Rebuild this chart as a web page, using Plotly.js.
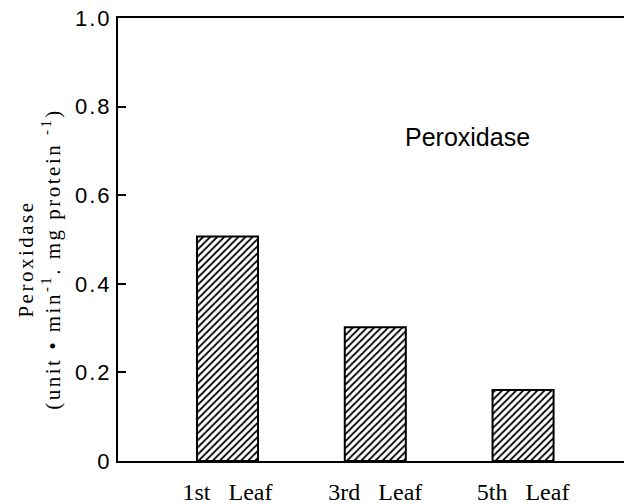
<!DOCTYPE html>
<html>
<head>
<meta charset="utf-8">
<script src="https://cdn.plot.ly/plotly-3.0.1.min.js"></script>
<style>
  html, body { margin: 0; padding: 0; background: #fff; }
  #chart .ytitletext { letter-spacing: 2.5px; }
  #chart .ytick text { letter-spacing: 2px; }
</style>
</head>
<body>
<div id="chart" style="width:624px;height:504px;"></div>
<script>
// Data
var categories = ["1st Leaf", "3rd Leaf", "5th Leaf"];
var peroxidase = [0.507, 0.302, 0.160];
var yTickVals = [0, 0.2, 0.4, 0.6, 0.8, 1.0];
var yTickText = ["0", "0.2", "0.4", "0.6", "0.8", "1.0"];
var yTitle = "Peroxidase<br>(unit \u2022 min<sup>-1</sup>. mg protein <sup>-1</sup>)";

var xPos = categories.map(function (c, i) { return i; });
var xLabels = categories.map(function (c) { return c.replace(" ", "\u00A0\u00A0\u00A0"); });

var trace = {
  type: "bar",
  x: xPos,
  y: peroxidase,
  width: 0.413,
  marker: {
    color: "white",
    line: { color: "black", width: 2 },
    pattern: { shape: "/", fgcolor: "black", bgcolor: "white", size: 5, solidity: 0.35 }
  },
  hoverinfo: "skip"
};

var layout = {
  width: 624,
  height: 504,
  margin: { l: 118, r: 0, t: 18, b: 43, pad: 0 },
  paper_bgcolor: "white",
  plot_bgcolor: "white",
  showlegend: false,
  xaxis: {
    range: [-0.741, 2.683],
    tickvals: xPos,
    ticktext: xLabels,
    ticks: "",
    showgrid: false,
    zeroline: false,
    showline: true,
    linecolor: "black",
    linewidth: 2,
    mirror: true,
    tickfont: { family: "Liberation Serif", size: 24, color: "black" },
    ticklabelstandoff: 8,
    fixedrange: true
  },
  yaxis: {
    range: [0, 1.0],
    tickvals: yTickVals,
    ticktext: yTickText,
    ticks: "inside",
    ticklen: 8,
    tickwidth: 2,
    tickcolor: "black",
    showgrid: false,
    zeroline: false,
    showline: true,
    linecolor: "black",
    linewidth: 2,
    tickfont: { family: "Liberation Sans", size: 22, color: "black" },
    fixedrange: true
  },
  annotations: [{
    x: 1.627, y: 0.731, xref: "x", yref: "y",
    text: "Peroxidase",
    showarrow: false,
    xanchor: "center", yanchor: "middle",
    font: { family: "Liberation Sans", size: 25, color: "black" }
  }, {
    x: -0.156, y: 0.455, xref: "paper", yref: "paper",
    text: yTitle,
    textangle: -90,
    showarrow: false,
    xanchor: "center", yanchor: "middle",
    align: "center",
    font: { family: "Liberation Serif", size: 21, color: "black" }
  }]
};

Plotly.newPlot("chart", [trace], layout, { staticPlot: true, displayModeBar: false }).then(function () {
  var ann = document.querySelectorAll("#chart .annotation-text");
  if (ann.length > 1) { ann[1].style.letterSpacing = "2.5px"; }
});
</script>
</body>
</html>
